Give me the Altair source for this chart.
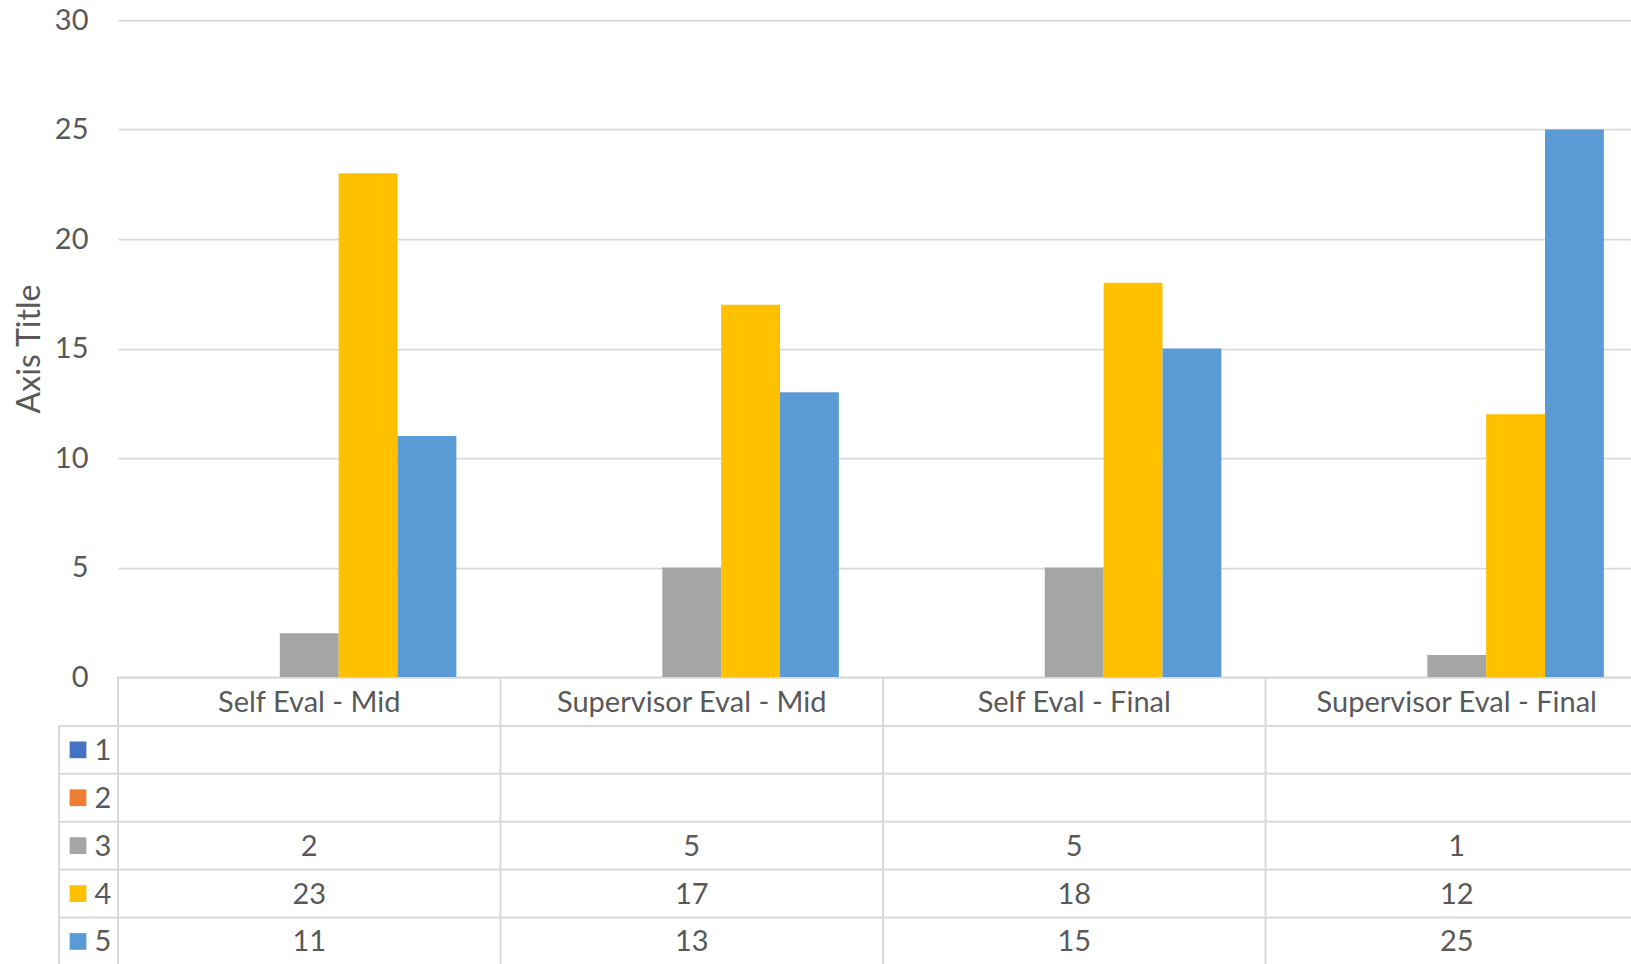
import altair as alt
import pandas as pd

# Survey rating counts per evaluation stage
categories = ["Self Eval - Mid", "Supervisor Eval - Mid", "Self Eval - Final", "Supervisor Eval - Final"]
series = ["1", "2", "3", "4", "5"]
series_colors = ["#4472C4", "#ED7D31", "#A5A5A5", "#FFC000", "#5B9BD5"]
values_1 = [None, None, None, None]
values_2 = [None, None, None, None]
values_3 = [2, 5, 5, 1]
values_4 = [23, 17, 18, 12]
values_5 = [11, 13, 15, 25]
y_ticks = [0, 5, 10, 15, 20, 25, 30]

rows = ["header"] + series

records = []
for s, vals in zip(series, [values_1, values_2, values_3, values_4, values_5]):
    for c, v in zip(categories, vals):
        records.append({"category": c, "series": s, "row": s, "value": v})
df = pd.DataFrame(records)
df_vals = df.dropna(subset=["value"]).copy()
df_vals["label"] = df_vals["value"].astype(int).astype(str)

df_cats = pd.DataFrame({"category": categories, "row": ["header"] * len(categories)})
df_series = pd.DataFrame({"series": series, "row": series})

FONT = "Lato"
TXT = "#595959"
GRID = "#D9D9D9"
FS = 29
TITLE_FS = 32
W, H = 1513, 657
CAT_SPAN = 1530
ROW_H = 47.9

x_scale = alt.Scale(domain=categories, range=[0, CAT_SPAN], paddingInner=0, paddingOuter=0)
row_scale = alt.Scale(domain=rows, range=[H + 1, H + 1 + ROW_H * len(rows)], paddingInner=0, paddingOuter=0)
color_scale = alt.Scale(domain=series, range=series_colors)

bars = alt.Chart(df_vals).mark_bar().encode(
    x=alt.X("category:N", scale=x_scale, sort=categories,
            axis=alt.Axis(title=None, labels=False, ticks=False, domain=True,
                          domainColor=GRID, domainWidth=2, grid=False)),
    xOffset=alt.XOffset("series:N", scale=alt.Scale(domain=series, paddingInner=0, paddingOuter=0.75)),
    y=alt.Y("value:Q", scale=alt.Scale(domain=[0, 30]),
            axis=alt.Axis(values=y_ticks, title="Axis Title", grid=True, gridColor=GRID,
                          gridWidth=1.75, domain=False, ticks=False,
                          labelFont=FONT, labelFontSize=FS, labelColor=TXT, labelPadding=30,
                          titleFont=FONT, titleFontSize=TITLE_FS, titleColor=TXT,
                          titleFontWeight="normal", titlePadding=8)),
    color=alt.Color("series:N", scale=color_scale, legend=None),
)

row_y = alt.Y("row:N", scale=row_scale, sort=rows, axis=None)

header_text = alt.Chart(df_cats).mark_text(font=FONT, fontSize=FS, color=TXT, baseline="middle", dy=1).encode(
    x=alt.X("category:N", scale=x_scale, sort=categories),
    y=row_y,
    text="category:N",
)

cell_text = alt.Chart(df_vals).mark_text(font=FONT, fontSize=FS, color=TXT, baseline="middle", dy=1).encode(
    x=alt.X("category:N", scale=x_scale, sort=categories),
    y=row_y,
    text="label:N",
)

row_labels = alt.Chart(df_series).mark_text(font=FONT, fontSize=FS, color=TXT, baseline="middle",
                                            align="center", dy=1).encode(
    x=alt.value(-15),
    y=row_y,
    text="series:N",
)

swatches = alt.Chart(df_series).mark_point(shape="square", filled=True, size=280, opacity=1,
                                           strokeWidth=0).encode(
    x=alt.value(-40),
    y=row_y,
    color=alt.Color("series:N", scale=color_scale, legend=None),
)

h_lines = alt.Chart(df_series).mark_rule(color=GRID, strokeWidth=2).encode(
    x=alt.value(-59),
    x2=alt.value("width"),
    y=alt.Y("row:N", scale=row_scale, sort=rows, axis=None, bandPosition=0),
)

v_lines = alt.Chart(df_cats).mark_rule(color=GRID, strokeWidth=2).encode(
    x=alt.X("category:N", scale=x_scale, sort=categories, bandPosition=0),
    y=alt.value("height"),
    y2=alt.value(H + 320),
)

left_line = alt.Chart(df_series.head(1)).mark_rule(color=GRID, strokeWidth=2).encode(
    x=alt.value(-59),
    y=alt.Y("row:N", scale=row_scale, sort=rows, axis=None, bandPosition=0),
    y2=alt.value(H + 320),
)

chart = alt.layer(
    bars, h_lines, v_lines, left_line, header_text, cell_text, row_labels, swatches
).resolve_scale(
    y="independent"
).properties(
    width=W,
    height=H,
    padding={"left": 118, "top": 20, "right": 0, "bottom": 287},
    autosize=alt.AutoSizeParams(type="none"),
).configure_view(
    stroke=None
)

chart.save("out.html", embed_options={"renderer": "svg", "actions": False})
